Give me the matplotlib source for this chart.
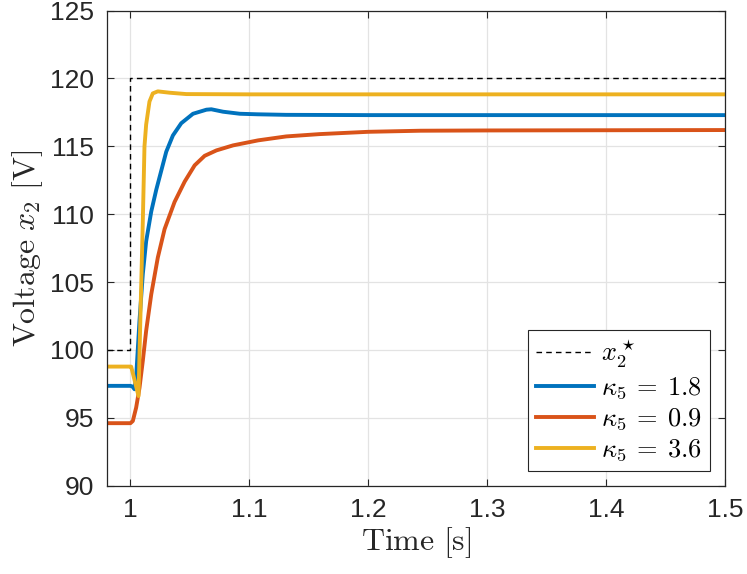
import matplotlib
matplotlib.use("Agg")
import matplotlib.pyplot as plt

plt.rcParams['font.family'] = ['Liberation Sans', 'DejaVu Sans']
plt.rcParams['mathtext.fontset'] = 'cm'

# reference step x2*
t_ref = [0.98, 1.0, 1.0, 1.5]
v_ref = [100, 100, 120, 120]

# kappa5 = 1.8
t_k18 = [0.98, 1.0, 1.0017, 1.0034, 1.0048, 1.0076, 1.0104, 1.0132, 1.0175, 1.0217,
         1.0259, 1.0301, 1.0357, 1.0427, 1.0526, 1.0639, 1.068, 1.0779, 1.092, 1.107,
         1.131, 1.2, 1.5]
v_k18 = [97.35, 97.35, 97.3, 97.1, 98.0, 102.15, 105.6, 108.0, 110.2, 111.8,
         113.2, 114.6, 115.8, 116.7, 117.4, 117.7, 117.73, 117.55, 117.4, 117.36,
         117.32, 117.3, 117.3]

# kappa5 = 0.9
t_k09 = [0.98, 1.0, 1.002, 1.0048, 1.0076, 1.0104, 1.0132, 1.0175, 1.023, 1.0287,
         1.0371, 1.0456, 1.054, 1.0624, 1.0723, 1.0863, 1.1074, 1.131, 1.159, 1.2,
         1.244, 1.3, 1.5]
v_k09 = [94.6, 94.6, 94.76, 95.75, 97.2, 99.2, 101.4, 104.1, 106.8, 108.9,
         110.9, 112.4, 113.6, 114.3, 114.7, 115.07, 115.44, 115.73, 115.9, 116.07,
         116.15, 116.17, 116.2]

# kappa5 = 3.6
t_k36 = [0.98, 1.0, 1.0006, 1.0068, 1.0076, 1.009, 1.0104, 1.0118, 1.0132, 1.016,
         1.0188, 1.023, 1.033, 1.047, 1.1, 1.5]
v_k36 = [98.77, 98.77, 98.77, 96.6, 99.7, 104.6, 109.5, 115.0, 116.6, 118.3,
         118.9, 119.05, 118.95, 118.85, 118.83, 118.83]

fig = plt.figure(figsize=(7.47, 5.74), dpi=100)
ax = fig.add_axes([0.1428, 0.154, 0.8277, 0.8275])

ax.plot(t_ref, v_ref, '--', color='k', lw=1.0, dashes=(4, 3), label=r'$x_2^\star$')
ax.plot(t_k18, v_k18, color='#0072BD', lw=2.8, label=r'$\kappa_5\:=\:1.8$')
ax.plot(t_k09, v_k09, color='#D95319', lw=2.8, label=r'$\kappa_5\:=\:0.9$')
ax.plot(t_k36, v_k36, color='#EDB120', lw=2.8, label=r'$\kappa_5\:=\:3.6$')

ax.set_xlim(0.98, 1.5)
ax.set_ylim(90, 125)
ax.set_xticks([1, 1.1, 1.2, 1.3, 1.4, 1.5])
ax.set_xticklabels(['1', '1.1', '1.2', '1.3', '1.4', '1.5'])
ax.set_yticks(range(90, 126, 5))

ax.grid(True, color='#e3e3e3', lw=0.9)
ax.set_axisbelow(True)
ax.tick_params(direction='in', top=True, right=True, length=5, width=0.8,
               labelsize=19, colors='#262626', pad=9)
for s in ax.spines.values():
    s.set_color('#262626')
    s.set_linewidth(0.9)

ax.set_xlabel(r'$\mathrm{Time}\ [\mathrm{s}]$', fontsize=23, color='#262626', labelpad=2)
ax.set_ylabel(r'$\mathrm{Voltage}\ x_2\ [\mathrm{V}]$', fontsize=23, color='#262626', labelpad=4)

leg = ax.legend(loc='lower right', bbox_to_anchor=(0.975, 0.03), fontsize=19,
                fancybox=False, framealpha=1, edgecolor='#262626',
                handlelength=2.2, handletextpad=0.25, borderpad=0.3, labelspacing=0.2,
                borderaxespad=0)
leg.get_frame().set_linewidth(0.8)

fig.savefig('out.png', dpi=100)
